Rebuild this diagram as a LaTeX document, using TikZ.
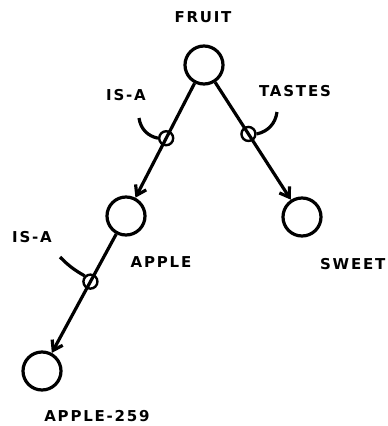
\documentclass[tikz,border=0pt]{standalone}
\usepackage{fontspec}
\setmainfont{DejaVu Sans}
\usetikzlibrary{arrows.meta}

\begin{document}
\begin{tikzpicture}[
    x=1pt, y=-1pt,
    line width=3.2pt,
    >={Straight Barb[length=9pt,width=12pt]},
    concept/.style={circle, draw, line width=3.2pt, minimum size=38pt, inner sep=0pt},
    tagring/.style={circle, draw, line width=2.4pt, minimum size=14pt, inner sep=0pt},
    lbl/.style={font=\fontsize{15}{17}\selectfont\bfseries\addfontfeatures{LetterSpace=12}, inner sep=0pt}
]
\useasboundingbox (0,0) rectangle (388,426);

% Concept nodes
\node[concept] (fruit)    at (204,65)  {};
\node[concept] (apple)    at (126,216) {};
\node[concept] (sweet)    at (302,217) {};
\node[concept] (apple259) at (42,371)  {};

% Concept names
\node[lbl] (fruitname)    at (203,17)  {FRUIT};
\node[lbl] (applename)    at (161,262) {APPLE};
\node[lbl, anchor=east] (sweetname) at (387,264) {SWEET};
\node[lbl] (apple259name) at (97,416)  {APPLE-259};

% Relations, each with a ring on the link
\draw[->] (fruit) -- (apple)    node[tagring, pos=0.48] (isa1) {};
\draw[->] (fruit) -- (sweet)    node[tagring, pos=0.44] (tastes) {};
\draw[->] (apple) -- (apple259) node[tagring, pos=0.40] (isa2) {};

% Relation names and their pointers
\node[lbl] (isa1name)   at (126,95)  {IS-A};
\node[lbl] (tastesname) at (295,91)  {TASTES};
\node[lbl] (isa2name)   at (32,237)  {IS-A};

\coordinate (isa1tip)   at (139,118);
\coordinate (tastestip) at (277,112);
\coordinate (isa2tip)   at (60,257);

\draw (isa1tip) to[bend right=35] (isa1.west);
\draw (tastestip) to[bend left=35] (tastes.east);
\draw (isa2tip) to[bend right=8] (isa2.north west);

\end{tikzpicture}
\end{document}
